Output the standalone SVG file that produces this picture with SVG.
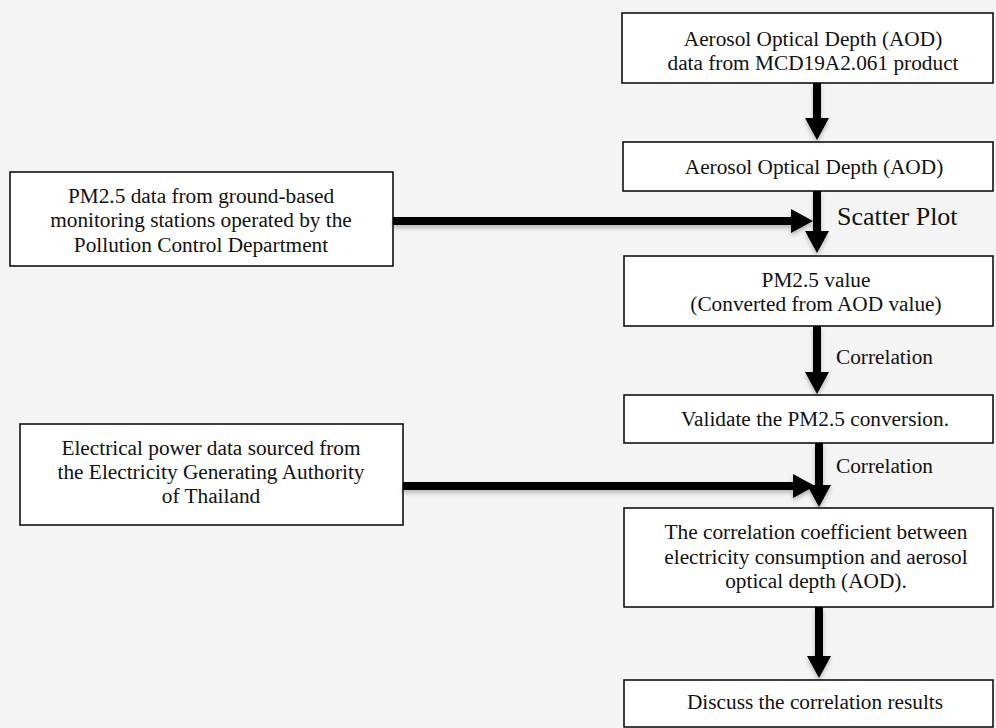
<svg xmlns="http://www.w3.org/2000/svg" width="996" height="728" viewBox="0 0 996 728">
<style>
.box{fill:#fff;stroke:#111;stroke-width:1.6}
.t{font-family:"Liberation Serif","Times New Roman",serif;font-size:21.3px;fill:#111;text-anchor:middle}
.lbl{font-family:"Liberation Serif","Times New Roman",serif;font-size:21.3px;fill:#111}
.big{font-family:"Liberation Serif","Times New Roman",serif;font-size:26px;fill:#111}
.c{stroke:#000;stroke-width:8;fill:none;marker-end:url(#ah)}
</style>
<defs>
<marker id="ah" markerUnits="userSpaceOnUse" markerWidth="24" markerHeight="24" viewBox="0 0 22 24" refX="2" refY="12" orient="auto">
<path d="M0,0 L22,12 L0,24 Z" fill="#000"/>
</marker>
<filter id="sh" x="-10%" y="-30%" width="120%" height="160%">
<feDropShadow dx="0" dy="3" stdDeviation="2" flood-color="#000" flood-opacity="0.25"/>
</filter>
</defs>
<rect width="996" height="728" fill="#f4f4f4"/>

<g id="n1"><rect class="box" x="622" y="13" width="371" height="70"/>
<text class="t" x="813" y="46">Aerosol Optical Depth (AOD)</text>
<text class="t" x="813" y="70">data from MCD19A2.061 product</text></g>

<g id="n2"><rect class="box" x="623" y="142" width="370" height="49"/>
<text class="t" x="814" y="174">Aerosol Optical Depth (AOD)</text></g>

<g id="n3"><rect class="box" x="10" y="172" width="383" height="94"/>
<text class="t" x="201" y="203">PM2.5 data from ground-based</text>
<text class="t" x="201" y="227">monitoring stations operated by the</text>
<text class="t" x="201" y="252">Pollution Control Department</text></g>

<g id="n4"><rect class="box" x="624" y="256" width="369" height="70"/>
<text class="t" x="816" y="287">PM2.5 value</text>
<text class="t" x="816" y="311">(Converted from AOD value)</text></g>

<g id="n5"><rect class="box" x="624" y="395" width="369" height="48"/>
<text class="t" x="815" y="426">Validate the PM2.5 conversion.</text></g>

<g id="n6"><rect class="box" x="20" y="424" width="383" height="101"/>
<text class="t" x="211" y="455">Electrical power data sourced from</text>
<text class="t" x="211" y="479">the Electricity Generating Authority</text>
<text class="t" x="211" y="503">of Thailand</text></g>

<g id="n7"><rect class="box" x="624" y="508" width="369" height="99"/>
<text class="t" x="816" y="539">The correlation coefficient between</text>
<text class="t" x="816" y="564">electricity consumption and aerosol</text>
<text class="t" x="816" y="588">optical depth (AOD).</text></g>

<g id="n8"><rect class="box" x="624" y="680" width="369" height="47"/>
<text class="t" x="815" y="709">Discuss the correlation results</text></g>

<g id="connectors" filter="url(#sh)">
<line class="c" x1="817" y1="83" x2="817" y2="120"/>
<line class="c" x1="817" y1="191" x2="817" y2="233"/>
<line class="c" x1="393" y1="221" x2="793" y2="221"/>
<line class="c" x1="817" y1="326" x2="817" y2="374"/>
<line class="c" x1="819" y1="443" x2="819" y2="487"/>
<line class="c" x1="403" y1="486" x2="795" y2="486"/>
<line class="c" x1="819" y1="607" x2="819" y2="658"/>
</g>

<g id="labels">
<text class="big" x="837" y="225">Scatter Plot</text>
<text class="lbl" x="836" y="364">Correlation</text>
<text class="lbl" x="836" y="473">Correlation</text>
</g>
</svg>
